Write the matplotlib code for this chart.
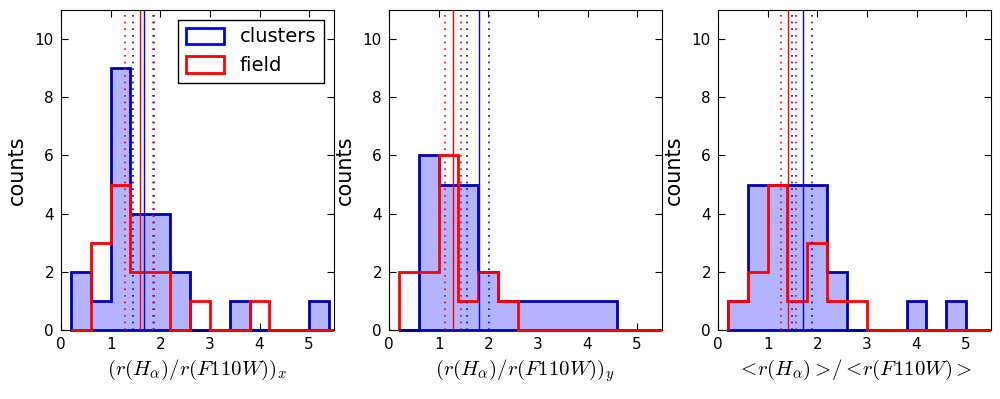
import numpy as np
import matplotlib
matplotlib.use('Agg')
import matplotlib.pyplot as plt
from matplotlib.patches import Patch, Rectangle

plt.rcParams['mathtext.fontset'] = 'cm'
plt.rcParams['font.family'] = 'DejaVu Sans'

# bin edges shared by all histograms
edges = np.arange(0.2, 6.0, 0.4)[:15]

# counts per bin
clusters_x = [2, 1, 9, 4, 4, 2, 0, 0, 1, 0, 0, 0, 1, 0]
field_x = [0, 3, 5, 2, 2, 0, 1, 0, 0, 1, 0, 0, 0, 0]
clusters_y = [0, 6, 5, 5, 2, 1, 1, 1, 1, 1, 1, 0, 0, 0]
field_y = [2, 2, 6, 1, 2, 1, 0, 0, 0, 0, 0, 0, 0, 0]
clusters_m = [1, 5, 5, 5, 5, 2, 0, 0, 0, 1, 0, 1, 0, 0]
field_m = [1, 2, 5, 1, 3, 1, 1, 0, 0, 0, 0, 0, 0, 0]

# median and 16/84 percentile markers: (low, median, high)
clusters_lines = [(1.46, 1.67, 1.88), (1.58, 1.81, 2.01), (1.50, 1.71, 1.89)]
field_lines = [(1.28, 1.59, 1.86), (1.12, 1.28, 1.45), (1.26, 1.42, 1.58)]

xlabels = [r'$(r(H_\alpha)/r(F110W))_x$',
           r'$(r(H_\alpha)/r(F110W))_y$',
           r'$<\!r(H_\alpha)>\!/<\!r(F110W)>$']

panels = [(clusters_x, field_x), (clusters_y, field_y), (clusters_m, field_m)]

fig = plt.figure(figsize=(10, 3.99), dpi=100)
lefts = [0.061, 0.389, 0.718]
centers = 0.5 * (edges[:-1] + edges[1:])
dark_blue = '#0000b4'
dots = (0, (1, 3))

for i, (cl, fl) in enumerate(panels):
    ax = fig.add_axes([lefts[i], 0.173, 0.273, 0.802])
    ax.set_xlim(0, 5.5)
    ax.set_ylim(0, 11)
    _, _, blue = ax.hist(centers, bins=edges, weights=cl, histtype='stepfilled',
                         facecolor=(0.7, 0.7, 1.0), edgecolor=dark_blue,
                         linewidth=2, zorder=3)
    _, _, red = ax.hist(centers, bins=edges, weights=fl, histtype='step',
                        color='r', linewidth=2, zorder=3)
    # clip at the right edge only, so the zero-count steps sit over the bottom spine
    clip = Rectangle((0, -0.05), 1, 1.1, transform=ax.transAxes,
                     facecolor='none', edgecolor='none')
    for p in list(blue) + list(red):
        p.set_clip_path(clip)

    lo, med, hi = clusters_lines[i]
    ax.axvline(med, color='b', lw=1, zorder=4)
    ax.axvline(lo, color='b', lw=1.2, ls=dots, zorder=4)
    ax.axvline(hi, color='b', lw=1.2, ls=dots, zorder=4)
    lo, med, hi = field_lines[i]
    ax.axvline(med, color='r', lw=1, zorder=4)
    ax.axvline(lo, color='r', lw=1.2, ls=dots, zorder=4)
    ax.axvline(hi, color='r', lw=1.2, ls=dots, zorder=4)

    ax.set_xticks([0, 1, 2, 3, 4, 5])
    ax.set_yticks([0, 2, 4, 6, 8, 10])
    ax.tick_params(direction='in', top=True, right=True, length=5,
                   labelsize=11, pad=5)
    ax.set_xlabel(xlabels[i], fontsize=15)
    ax.set_ylabel('counts', fontsize=15, labelpad=6)

    if i == 0:
        handles = [Patch(facecolor='none', edgecolor='b', lw=2, label='clusters'),
                   Patch(facecolor='none', edgecolor='r', lw=2, label='field')]
        leg = ax.legend(handles=handles, loc='upper right', fontsize=14,
                        fancybox=False, edgecolor='k', framealpha=1,
                        handlelength=2.0, handleheight=0.9, borderaxespad=0.5)
        leg.set_zorder(5)

plt.savefig('out.png', dpi=100)
